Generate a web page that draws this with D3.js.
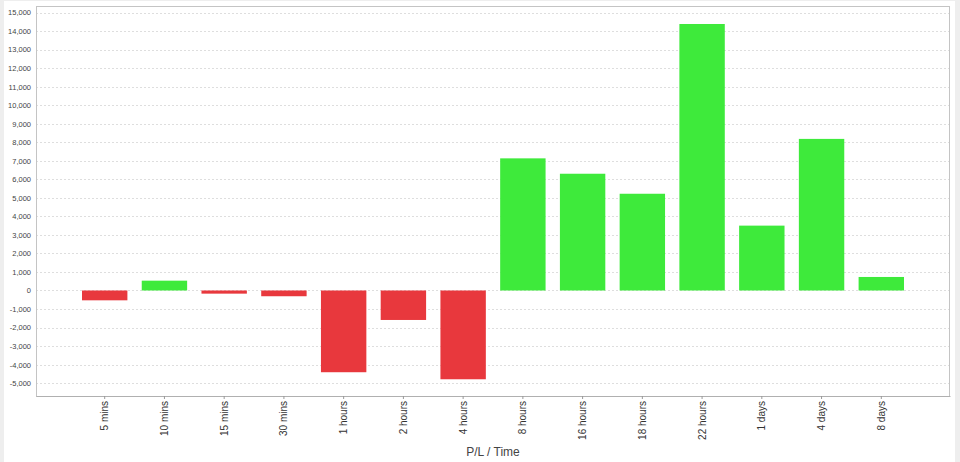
<!DOCTYPE html>
<html><head><meta charset="utf-8">
<script src="https://cdn.jsdelivr.net/npm/d3@7"></script>
<style>
html,body{margin:0;padding:0;background:#eeeeee;}
svg{display:block;}
</style></head>
<body>
<script>
const categories = ["5 mins","10 mins","15 mins","30 mins","1 hours","2 hours","4 hours","8 hours","16 hours","18 hours","22 hours","1 days","4 days","8 days"];
const values = [-530, 530, -170, -310, -4410, -1590, -4790, 7130, 6300, 5220, 14380, 3500, 8180, 730];
const yTicks = [-5000,-4000,-3000,-2000,-1000,0,1000,2000,3000,4000,5000,6000,7000,8000,9000,10000,11000,12000,13000,14000,15000];
const xTitle = "P/L / Time";

const W = 960, H = 462;
const plot = {left: 36, right: 950, top: 6, bottom: 396};
const svg = d3.select("body").append("svg").attr("width", W).attr("height", H);
const font = "'Liberation Sans', Arial, Helvetica, sans-serif";

svg.append("rect").attr("x",4).attr("y",1).attr("width",951).attr("height",H-1).attr("fill","#fff");

const x = d3.scaleBand().domain(categories).range([plot.left, plot.right]).paddingInner(0.24).paddingOuter(0.77);
const y = d3.scaleLinear().domain([-5693, 15351]).range([plot.bottom, plot.top]);

// grid
svg.append("g").selectAll("line").data(yTicks).join("line")
  .attr("x1", plot.left).attr("x2", plot.right)
  .attr("y1", d => Math.round(y(d)) + 0.5).attr("y2", d => Math.round(y(d)) + 0.5)
  .attr("stroke", "#dedede").attr("stroke-width", 1).attr("stroke-dasharray", "2,2");

// bars
svg.append("g").selectAll("rect").data(values).join("rect")
  .attr("x", (d,i) => x(categories[i]))
  .attr("width", x.bandwidth())
  .attr("y", d => y(Math.max(0, d)))
  .attr("height", d => Math.abs(y(d) - y(0)))
  .attr("fill", d => d < 0 ? "#e8383d" : "#3eea3b");

// frame
svg.append("rect").attr("x", plot.left + 0.5).attr("y", plot.top + 0.5)
  .attr("width", plot.right - plot.left - 1).attr("height", plot.bottom - plot.top)
  .attr("fill", "none").attr("stroke", "#c4c4c4");

// y axis
const fmt = v => (v < 0 ? "-" : "") + d3.format(",")(Math.abs(v));
const yAxis = d3.axisLeft(y).tickValues(yTicks).tickFormat(fmt).tickSize(0).tickPadding(5);
const gy = svg.append("g").attr("transform", `translate(${plot.left},0)`).call(yAxis);
gy.select(".domain").remove();
gy.selectAll("text").attr("font-family", font).attr("font-size", 7.5).attr("fill", "#444");

// x axis
const xAxis = d3.axisBottom(x).tickSizeInner(3).tickSizeOuter(0).tickPadding(4);
const gx = svg.append("g").attr("transform", `translate(0,${plot.bottom})`).call(xAxis);
gx.select(".domain").attr("stroke", "#b0b0b0");
gx.selectAll(".tick line").attr("stroke", "#999");
gx.selectAll("text")
  .attr("font-family", font).attr("font-size", 10).attr("fill", "#333")
  .attr("transform", "rotate(-90)")
  .attr("text-anchor", "end")
  .attr("x", -5).attr("y", 0).attr("dy", "0.35em");

svg.append("text").attr("x", (plot.left + plot.right)/2).attr("y", 456)
  .attr("text-anchor", "middle").attr("font-family", font).attr("font-size", 12).attr("fill", "#444")
  .text(xTitle);
</script>
</body></html>
